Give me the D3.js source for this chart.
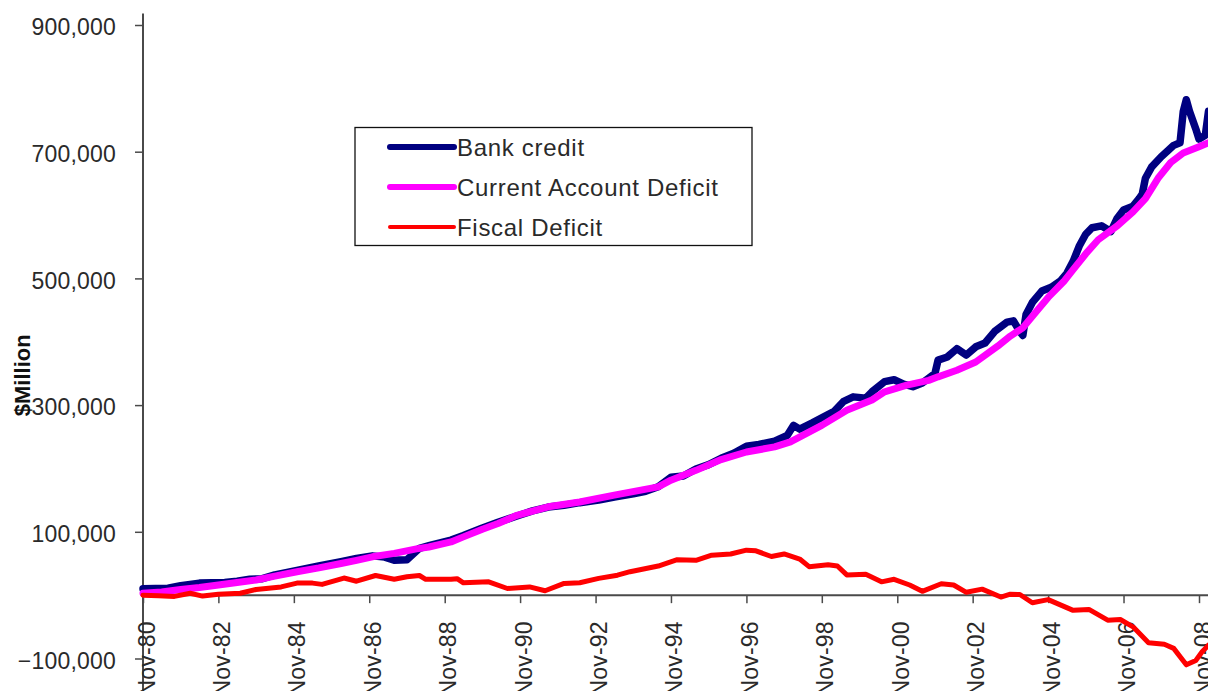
<!DOCTYPE html>
<html>
<head>
<meta charset="utf-8">
<script src="https://cdn.jsdelivr.net/npm/d3@7"></script>
<style>
  html, body { margin: 0; padding: 0; background: #fff; overflow: hidden; }
  svg { display: block; font-family: "Liberation Sans", Arial, sans-serif; }
</style>
</head>
<body>
<svg id="chart" width="1208" height="691"></svg>
<script>
// ---------- DATA ($Million) ----------
const bankDates = ["1980-11","1981-07","1981-11","1982-05","1983-01","1983-05","1983-09","1984-01","1984-05","1984-12","1985-07","1986-02","1986-07","1986-12","1987-04","1987-07","1987-11","1988-03","1988-06","1989-01","1989-05","1989-11","1990-04","1990-10","1991-03","1991-08","1992-01","1992-06","1992-12","1993-05","1993-11","1994-03","1994-07","1994-11","1995-03","1995-07","1995-11","1996-03","1996-07","1996-11","1997-03","1997-08","1997-12","1998-02","1998-04","1998-08","1998-11","1999-03","1999-06","1999-09","2000-01","2000-03","2000-07","2000-10","2001-01","2001-04","2001-07","2001-11","2001-12","2002-03","2002-06","2002-09","2002-12","2003-03","2003-06","2003-10","2003-12","2004-02","2004-03","2004-04","2004-06","2004-09","2004-12","2005-03","2005-05","2005-07","2005-09","2005-11","2006-01","2006-04","2006-07","2006-09","2006-11","2007-02","2007-04","2007-05","2007-06","2007-08","2007-11","2008-01","2008-03","2008-05","2008-06","2008-07","2008-08","2008-10","2008-11","2009-01","2009-02"];
const bankValues = [10000,11000,15000,19000,20000,22000,25000,26000,32000,39000,46000,53000,58000,62000,60000,55000,56000,74000,78000,87000,94000,106000,115000,125000,133000,139000,142000,146000,150000,155000,160000,164000,171000,186000,188000,199000,206000,216000,224000,235000,238000,243000,252000,268000,262000,272000,280000,290000,306000,313000,311000,321000,337000,340000,333000,329000,335000,350000,371000,376000,389000,379000,392000,398000,416000,431000,433000,416000,410000,443000,462000,480000,486000,496000,508000,527000,552000,570000,580000,583000,574000,595000,608000,614000,626000,633000,658000,676000,692000,701000,710000,714000,763000,782000,764000,736000,720000,726000,764000];

const cadDates = ["1980-11","1981-05","1981-11","1982-05","1982-11","1983-05","1983-11","1984-05","1984-12","1985-07","1986-02","1986-07","1986-12","1987-07","1988-02","1988-06","1989-01","1989-05","1989-11","1990-04","1990-10","1991-08","1992-06","1993-05","1994-07","1994-11","1995-07","1996-03","1996-11","1997-08","1998-01","1998-11","1999-07","2000-03","2000-07","2001-02","2001-09","2001-12","2002-06","2002-12","2003-07","2003-11","2004-03","2004-08","2004-11","2005-04","2005-07","2005-11","2006-03","2006-09","2007-02","2007-06","2007-10","2008-02","2008-06","2008-11","2009-02"];
const cadValues = [3000,5000,9000,12000,16000,20000,24000,30000,37000,43000,50000,55000,60500,66000,73000,76000,84000,92000,104000,113000,126000,139500,147000,158000,171000,181500,197000,214000,226000,234000,242000,268000,292000,308000,321000,331500,339000,344600,355000,368000,393000,409000,422000,452000,470000,495000,514000,539000,561000,583000,605000,626000,658000,683000,698000,708000,714000];

const fiscalDates = ["1980-11","1981-04","1981-09","1982-02","1982-06","1982-11","1983-06","1983-11","1984-07","1984-12","1985-05","1985-08","1986-03","1986-07","1987-01","1987-07","1987-11","1988-03","1988-05","1989-01","1989-03","1989-05","1990-01","1990-07","1991-02","1991-07","1992-01","1992-06","1992-12","1993-06","1993-10","1994-07","1995-01","1995-07","1995-12","1996-06","1996-11","1997-02","1997-07","1997-11","1998-04","1998-07","1999-01","1999-04","1999-07","2000-01","2000-06","2000-10","2001-03","2001-07","2002-01","2002-05","2002-09","2003-02","2003-08","2003-11","2004-02","2004-06","2004-11","2005-07","2005-12","2006-06","2006-10","2007-02","2007-07","2007-12","2008-03","2008-07","2008-10","2008-12","2009-02"];
const fiscalValues = [0,-1000,-2000,3000,-1500,1500,3000,9000,13000,19000,19000,17000,27000,22000,31000,25000,29000,31000,25000,25000,26000,19500,21000,10500,13000,7000,18500,19500,26500,31500,37000,46000,56000,55000,63000,65000,71000,70000,61000,65000,57000,45000,48000,46000,32000,33000,21000,25000,16000,6000,18000,16000,4500,9500,-3000,1500,1000,-12000,-7000,-24000,-22500,-39500,-38500,-50000,-75000,-77500,-84000,-110000,-103000,-89500,-79000];

const yTickValues = [-100000, 100000, 300000, 500000, 700000, 900000];
const xTickLabels = ["Nov-80","Nov-82","Nov-84","Nov-86","Nov-88","Nov-90","Nov-92","Nov-94","Nov-96","Nov-98","Nov-00","Nov-02","Nov-04","Nov-06","Nov-08"];
const seriesNames = ["Bank credit", "Current Account Deficit", "Fiscal Deficit"];
const seriesColors = ["#000080", "#FF00FF", "#FF0000"];

// ---------- SETUP ----------
const svg = d3.select("#chart");
const parseM = d3.timeParse("%Y-%m");
const parseTick = d3.timeParse("%b-%y");

const x = d3.scaleTime()
  .domain([parseM("1980-11"), parseM("2008-11")])
  .range([143, 1199]);
const y = d3.scaleLinear()
  .domain([-100000, 900000])
  .range([658.5, 25]);

const axisColor = "#4a4a4a";
const fontSize = 23;
const textColor = "#2a2a2a";

// ---------- Y AXIS ----------
const yAxis = svg.append("g").attr("transform", `translate(${x.range()[0]},0)`)
  .call(d3.axisLeft(y).tickValues(yTickValues).tickSize(8).tickSizeOuter(0).tickPadding(19)
    .tickFormat(d3.format(",")));
yAxis.select(".domain").remove();
yAxis.selectAll(".tick line").attr("stroke", axisColor).attr("stroke-width", 1.5);
yAxis.selectAll(".tick text")
  .attr("font-size", fontSize).attr("fill", textColor).attr("dy", "0.42em")
  .attr("letter-spacing", 0.2)
  .attr("font-family", "'Liberation Sans', Arial, sans-serif");
svg.append("line")
  .attr("x1", x.range()[0]).attr("x2", x.range()[0])
  .attr("y1", y(918000)).attr("y2", y(-160000))
  .attr("stroke", axisColor).attr("stroke-width", 2);

// Y title
svg.append("text")
  .attr("transform", `translate(30, ${y(347000)}) rotate(-90)`)
  .attr("text-anchor", "middle")
  .attr("font-weight", "bold").attr("font-size", 22).attr("fill", "#111")
  .text("$Million");

// ---------- X AXIS ----------
const xTicks = xTickLabels.map(s => parseTick(s));
const xAxis = svg.append("g").attr("transform", `translate(0,${y(0)})`)
  .call(d3.axisBottom(x).tickValues(xTicks).tickSize(8).tickSizeOuter(0).tickFormat(d3.timeFormat("%b-%y")));
xAxis.select(".domain").remove();
xAxis.selectAll(".tick line").attr("stroke", axisColor).attr("stroke-width", 1.5);
xAxis.selectAll(".tick text")
  .attr("font-size", fontSize).attr("fill", textColor)
  .attr("font-family", "'Liberation Sans', Arial, sans-serif")
  .attr("letter-spacing", 0.2)
  .attr("text-anchor", "end")
  .attr("transform", "translate(0,26) rotate(-90)")
  .attr("x", 0).attr("y", 0).attr("dy", "0.48em");
svg.append("line")
  .attr("x1", x.range()[0]).attr("x2", 1208)
  .attr("y1", y(0)).attr("y2", y(0))
  .attr("stroke", axisColor).attr("stroke-width", 2);

// ---------- LINES ----------
const line = d3.line().x(d => x(d.date)).y(d => y(d.value)).curve(d3.curveLinear);
const mk = (dates, vals) => dates.map((dt, i) => ({date: parseM(dt), value: vals[i]}));
const series = [
  {data: mk(bankDates, bankValues), color: seriesColors[0], width: 7.5},
  {data: mk(cadDates, cadValues), color: seriesColors[1], width: 7},
  {data: mk(fiscalDates, fiscalValues), color: seriesColors[2], width: 5}
];
svg.append("g").selectAll("path").data(series).join("path")
  .attr("d", d => line(d.data))
  .attr("fill", "none")
  .attr("stroke", d => d.color)
  .attr("stroke-width", d => d.width)
  .attr("stroke-linejoin", "round")
  .attr("stroke-linecap", "round");

// ---------- LEGEND ----------
const lg = svg.append("g");
lg.append("rect").attr("x", 355).attr("y", 127.5).attr("width", 397).attr("height", 118)
  .attr("fill", "#fff").attr("stroke", "#111").attr("stroke-width", 1.3);
const legendWidths = [6, 6, 4];
seriesNames.forEach((name, i) => {
  const cy = 147 + i * 40;
  lg.append("line").attr("x1", 390).attr("x2", 454).attr("y1", cy).attr("y2", cy)
    .attr("stroke", seriesColors[i]).attr("stroke-width", legendWidths[i]).attr("stroke-linecap", "round");
  lg.append("text").attr("x", 457).attr("y", cy + 9)
    .attr("font-size", 24).attr("fill", textColor).attr("letter-spacing", 0.7)
    .text(name);
});
</script>
</body>
</html>
